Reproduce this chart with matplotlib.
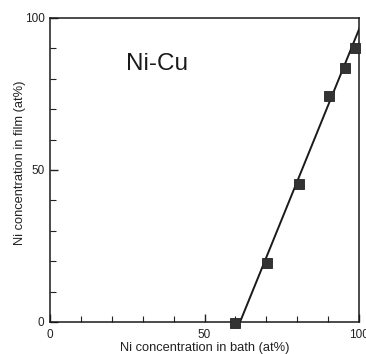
import matplotlib
matplotlib.use("Agg")
import matplotlib.pyplot as plt
from matplotlib.ticker import MultipleLocator

plt.rcParams['font.family'] = ['Liberation Sans', 'DejaVu Sans']

# Measured Ni content: bath vs. deposited film (at%)
bath_ni = [60.0, 70.1, 80.6, 90.3, 95.6, 98.6]
film_ni = [-0.3, 19.5, 45.5, 74.2, 83.5, 90.0]

# Fitted trend line end points
fit_x = [61.5, 100.5]
fit_y = [0.0, 97.5]

x_ticks = [0, 50, 100]
y_ticks = [0, 50, 100]

fig = plt.figure(figsize=(3.66, 3.54), dpi=100)
ax = fig.add_axes([50 / 366, 1 - 322 / 354, 309 / 366, 304 / 354])

ax.plot(fit_x, fit_y, color='#1a1a1a', lw=1.4, zorder=2, clip_on=True)
ax.plot(bath_ni, film_ni, ls='none', marker='s', ms=7.5, mfc='#333333',
        mec='#222222', mew=0.6, zorder=3, clip_on=False)

ax.set_xlim(0, 100)
ax.set_ylim(0, 100)
ax.set_xticks(x_ticks)
ax.set_yticks(y_ticks)
ax.xaxis.set_minor_locator(MultipleLocator(10))
ax.yaxis.set_minor_locator(MultipleLocator(10))
ax.tick_params(which='major', direction='in', length=6, width=1, labelsize=8.5,
               colors='#222222', pad=4, top=False, right=False)
ax.tick_params(which='minor', direction='in', length=4, width=0.8,
               colors='#222222', top=False, right=False)
ax.tick_params(axis='x', which='major', pad=5)

for s in ax.spines.values():
    s.set_linewidth(1.1)
    s.set_color('#1a1a1a')

ax.set_xlabel('Ni concentration in bath (at%)', fontsize=9.3, labelpad=0.5, color='#222222')
ax.set_ylabel('Ni concentration in film (at%)', fontsize=9.3, labelpad=-1, color='#222222')
ax.yaxis.label.set_y(0.523)

ax.text(24.5, 85, 'Ni-Cu', fontsize=17.5, va='center', ha='left', color='#1a1a1a')

fig.savefig('out.png', dpi=100)
